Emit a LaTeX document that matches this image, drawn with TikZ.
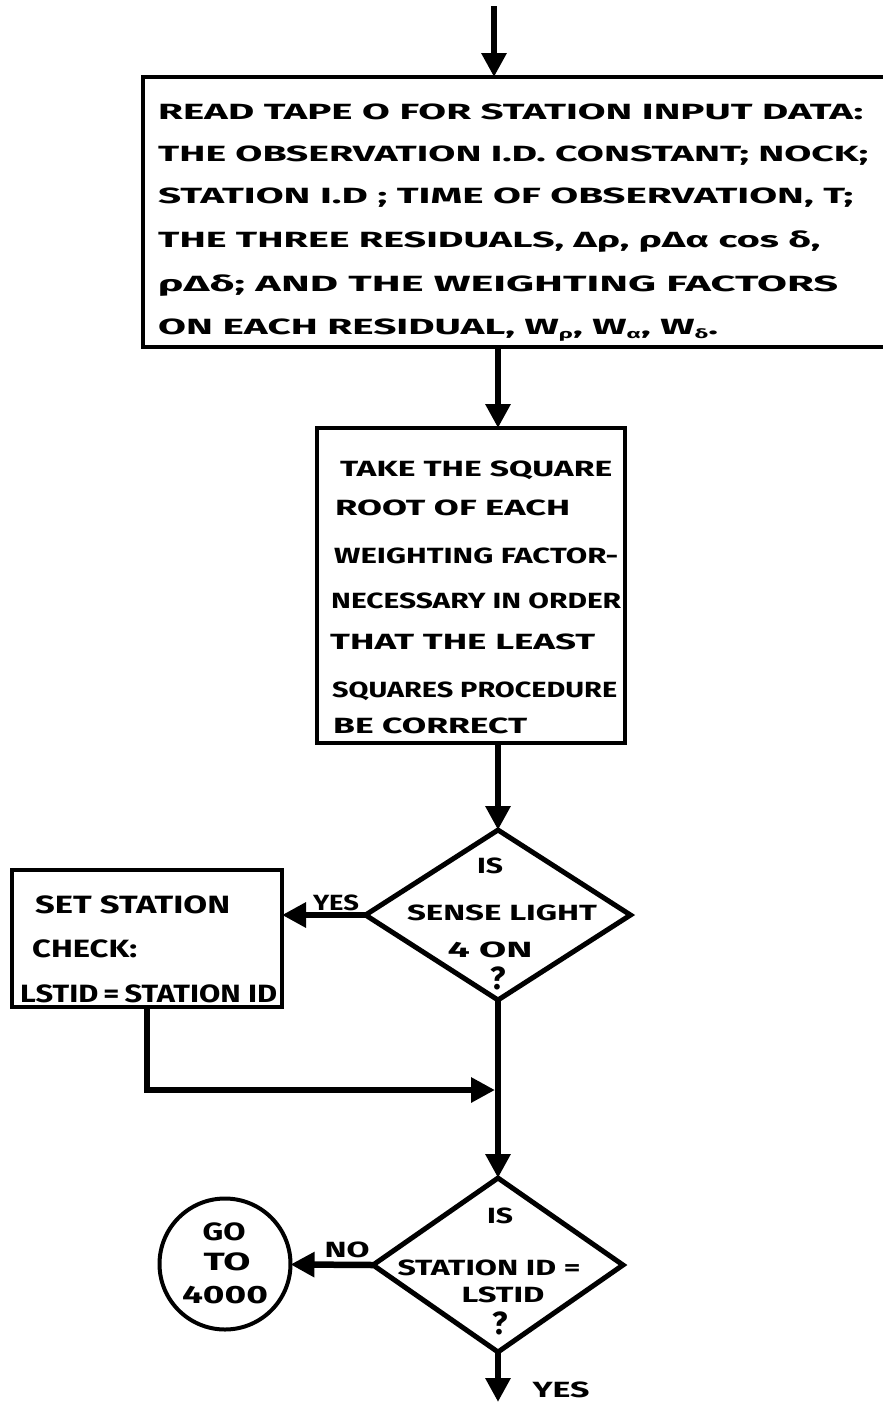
\documentclass[tikz,border=0pt]{standalone}
\usepackage{fontspec}
\setmainfont{Fira Sans}
\usetikzlibrary{arrows.meta,shapes.geometric}

% stretch a line of lettering horizontally to a given width (in pt)
\newsavebox\fitbox
\newlength\fitlen
\newcommand\fitto[2]{\sbox\fitbox{#2}\setlength\fitlen{\wd\fitbox}%
  \pgfmathsetmacro\fitratio{#1/\fitlen}\scalebox{\fitratio}[1]{\usebox\fitbox}}
% lowered small index, as in W-rho
\newcommand\lowsub[1]{\raisebox{-0.2em}{\fontsize{13}{13}\selectfont #1}}

\tikzset{
  box/.style={draw, rectangle, line width=4.5pt, inner sep=0pt, outer sep=0pt},
  decision/.style={draw, diamond, line width=5pt, inner sep=0pt, outer sep=0pt},
  terminal/.style={draw, circle, line width=4pt, inner sep=0pt, outer sep=0pt},
  flow/.style={line width=6.5pt, -{Triangle[length=24pt,width=24pt]}},
  txt/.style={inner sep=0pt, anchor=base west, font=\fontsize{22}{26}\selectfont\bfseries},
  ctxt/.style={txt, anchor=base},
  bigtxt/.style={font=\fontsize{25}{30}\selectfont\bfseries},
  qmark/.style={font=\fontsize{32}{38}\selectfont\bfseries},
}

\begin{document}
\begin{tikzpicture}[x=1pt,y=-1pt]
\useasboundingbox[fill=white] (0,0) rectangle (883,1406);

% ---- blocks
\node[box, minimum width=752, minimum height=270] (read) at (519,212) {};
\node[box, minimum width=308, minimum height=315] (sqrt) at (471,585.5) {};
\node[decision, minimum width=265, minimum height=170] (sense) at (498,915) {};
\node[box, minimum width=270, minimum height=137] (setchk) at (147,938.5) {};
\node[decision, minimum width=250, minimum height=174] (same) at (498,1265) {};
\node[terminal, minimum size=131] (goto) at (225,1264) {};

\coordinate (entry) at (494,6);
\coordinate (merge) at (495,1090);
\coordinate (exit) at (498,1402);

% ---- connectors
\draw[flow] (entry) -- (entry |- read.north);
\draw[flow] (read.south -| sense.north) -- (sqrt.north -| sense.north);
\draw[flow] (sqrt.south -| sense.north) -- (sense.north);
\draw[flow] (sense.west) -- (sense.west -| setchk.east);
\draw[flow] (sense.south) -- (same.north);
\draw[flow] (setchk.south) |- (merge);
\draw[flow] (same.west) -- (goto);
\draw[flow] (same.south) -- (exit);

% ---- input block lettering
\node[txt] (r1) at (158,119) {\fitto{705}{READ TAPE O FOR STATION INPUT DATA:}};
\node[txt] (r2) at (158,161) {\fitto{710}{THE OBSERVATION I.D. CONSTANT; NOCK;}};
\node[txt] (r3) at (158,203) {\fitto{695}{STATION I.D ; TIME OF OBSERVATION, T;}};
\node[txt] (r4) at (158,247) {\fitto{662}{THE THREE RESIDUALS, Δρ, ρΔα cos δ,}};
\node[txt] (r5) at (158,291) {\fitto{680}{ρΔδ; AND THE WEIGHTING FACTORS}};
\node[txt] (r6) at (158,334) {\fitto{560}{ON EACH RESIDUAL, W\lowsub{ρ}, W\lowsub{α}, W\lowsub{δ}.}};

% ---- square root block lettering
\node[txt] (s1) at (340,476) {\fitto{272}{TAKE THE SQUARE}};
\node[txt] (s2) at (335,515) {\fitto{235}{ROOT OF EACH}};
\node[txt] (s3) at (334,563) {\fitto{284}{WEIGHTING FACTOR-}};
\node[txt] (s4) at (331,608) {\fitto{290}{NECESSARY IN ORDER}};
\node[txt] (s5) at (330,649) {\fitto{265}{THAT THE LEAST}};
\node[txt] (s6) at (332,697) {\fitto{285}{SQUARES PROCEDURE}};
\node[txt] (s7) at (333,733) {\fitto{194}{BE CORRECT}};

% ---- first decision
\node[ctxt] (q1a) at (490,873) {\fitto{26}{IS}};
\node[ctxt] (q1b) at (502,920) {\fitto{190}{SENSE LIGHT}};
\node[ctxt] (q1c) at (490,957) {\fitto{85}{4 ON}};
\node[ctxt, qmark] (q1d) at (498,989) {?};
\node[ctxt] (yes1) at (336,910) {\fitto{46}{YES}};

% ---- station check block
\node[txt, bigtxt] (c1) at (35,913) {\fitto{195}{SET STATION}};
\node[txt, bigtxt] (c2) at (32,957) {\fitto{105}{CHECK:}};
\node[txt, bigtxt] (c3) at (20,1002) {\fitto{257}{LSTID\,=\,STATION ID}};

% ---- second decision
\node[ctxt] (q2a) at (500,1223) {\fitto{26}{IS}};
\node[ctxt] (q2b) at (489,1275) {\fitto{183}{STATION ID =}};
\node[ctxt] (q2c) at (503,1302) {\fitto{83}{LSTID}};
\node[ctxt, qmark] (q2d) at (500,1334) {?};
\node[ctxt] (no) at (347,1257) {\fitto{45}{NO}};
\node[ctxt] (yes2) at (561,1397) {\fitto{57}{YES}};

% ---- connector target
\node[ctxt, bigtxt] (g1) at (224,1240) {\fitto{43}{GO}};
\node[ctxt, bigtxt] (g2) at (227,1270) {\fitto{47}{TO}};
\node[ctxt, bigtxt] (g3) at (225,1303) {\fitto{86}{4000}};
\end{tikzpicture}
\end{document}
